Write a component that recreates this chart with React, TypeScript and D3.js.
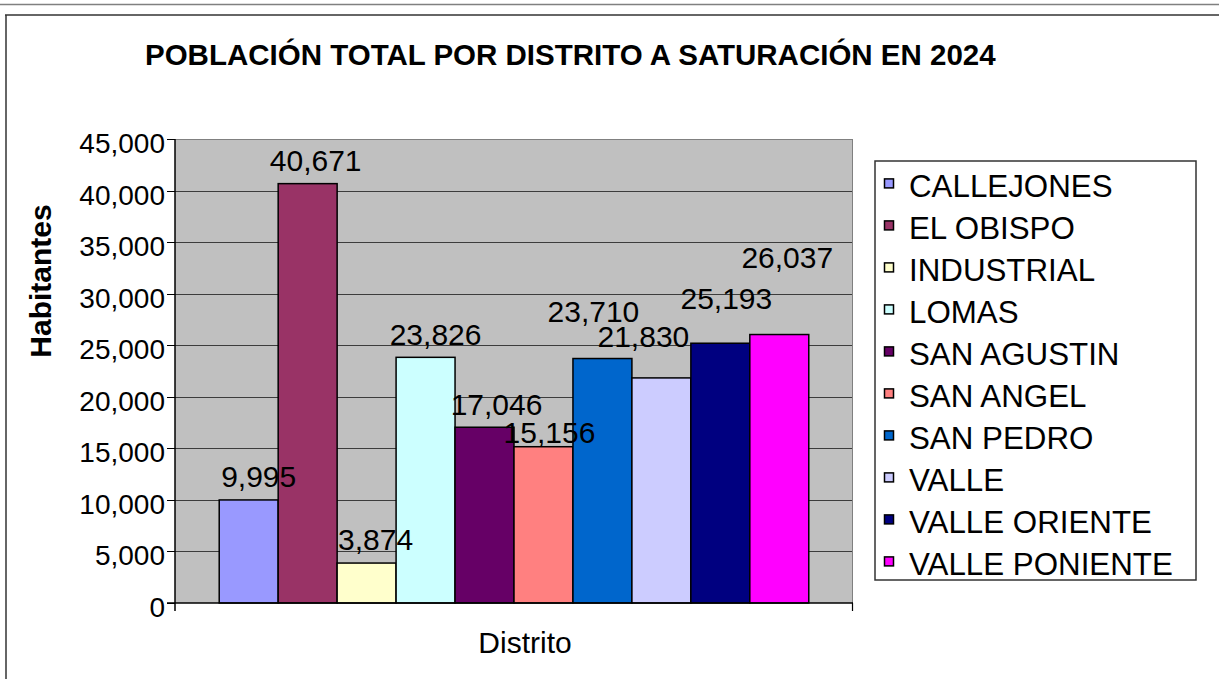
import React from "react";
import * as d3 from "d3";

const categories = ["Distrito"];
const districts = [
  "CALLEJONES",
  "EL OBISPO",
  "INDUSTRIAL",
  "LOMAS",
  "SAN AGUSTIN",
  "SAN ANGEL",
  "SAN PEDRO",
  "VALLE",
  "VALLE ORIENTE",
  "VALLE PONIENTE",
];
const population = [9995, 40671, 3874, 23826, 17046, 15156, 23710, 21830, 25193, 26037];
const colors = [
  "#9999FF",
  "#993366",
  "#FFFFCC",
  "#CCFFFF",
  "#660066",
  "#FF8080",
  "#0066CC",
  "#CCCCFF",
  "#000080",
  "#FF00FF",
];
const yTicks = [0, 5000, 10000, 15000, 20000, 25000, 30000, 35000, 40000, 45000];
const title = "POBLACIÓN TOTAL POR DISTRITO A SATURACIÓN EN 2024";
const yTitle = "Habitantes";

// label placement nudges (pixels) as laid out in the original chart
const labelDx = [10, 8, 9, 10, 12, 6, -9, -18, 6, 8];
const labelDy = [0, 0, 0, 0, 0, 9, -24, -18, -22, -54];

const FONT = "'Liberation Sans', Arial, Helvetica, sans-serif";

export default function App() {
  const W = 1219;
  const H = 679;
  const plot = { left: 175, top: 139, right: 853, bottom: 603 };
  const y = d3.scaleLinear().domain([0, 45000]).range([plot.bottom, plot.top]);
  const x0 = d3.scaleBand().domain(categories).range([plot.left, plot.right]).padding(0);
  const x1 = d3
    .scaleBand()
    .domain(districts)
    .range([0, x0.bandwidth()])
    .paddingInner(0)
    .paddingOuter(0.75);
  const fmt = d3.format(",");
  const catX = x0(categories[0]) as number;

  const legend = { x: 875, y: 161, w: 321, h: 419, first: 196.7, step: 42 };

  return (
    <svg
      width={W}
      height={H}
      style={{ position: "absolute", left: 0, top: 0, display: "block", background: "#fff" }}
      fontFamily={FONT}
    >
      {/* outer frame */}
      <line x1={0} x2={W} y1={4.5} y2={4.5} stroke="#808080" strokeWidth={1.5} />
      <line x1={5} x2={W} y1={15} y2={15} stroke="#333" strokeWidth={1.5} />
      <line x1={6} x2={6} y1={15} y2={H} stroke="#333" strokeWidth={1.5} />

      {/* title */}
      <text x={145} y={65} fontSize={29.5} fontWeight="bold" fill="#000">
        {title}
      </text>

      {/* plot background */}
      <rect
        x={plot.left}
        y={plot.top}
        width={plot.right - plot.left}
        height={plot.bottom - plot.top}
        fill="#C0C0C0"
      />
      {/* gridlines */}
      {yTicks
        .filter((t) => t > 0 && t < 45000)
        .map((t) => (
          <line
            key={"g" + t}
            x1={plot.left}
            x2={plot.right}
            y1={Math.round(y(t)) + 0.5}
            y2={Math.round(y(t)) + 0.5}
            stroke="#3c3c3c"
            strokeWidth={1}
          />
        ))}
      {/* plot top & right border */}
      <line x1={plot.left} x2={plot.right} y1={plot.top + 0.5} y2={plot.top + 0.5} stroke="#808080" />
      <line x1={plot.right - 0.5} x2={plot.right - 0.5} y1={plot.top} y2={plot.bottom} stroke="#808080" />

      {/* bars */}
      {districts.map((d, i) => {
        const bx = catX + (x1(d) as number);
        const by = y(population[i]);
        return (
          <rect
            key={d}
            x={bx}
            y={by}
            width={x1.bandwidth()}
            height={plot.bottom - by}
            fill={colors[i]}
            stroke="#000"
            strokeWidth={1.5}
          />
        );
      })}

      {/* axes */}
      <line x1={plot.left} x2={plot.left} y1={plot.top} y2={plot.bottom + 8} stroke="#000" strokeWidth={1.5} />
      <line x1={plot.left - 8} x2={plot.right} y1={plot.bottom} y2={plot.bottom} stroke="#000" strokeWidth={1.5} />
      <line x1={plot.right - 0.5} x2={plot.right - 0.5} y1={plot.bottom} y2={plot.bottom + 8} stroke="#000" strokeWidth={1.2} />
      {yTicks.map((t) => (
        <g key={"t" + t}>
          <line
            x1={plot.left - 8}
            x2={plot.left}
            y1={Math.round(y(t)) + 0.5}
            y2={Math.round(y(t)) + 0.5}
            stroke="#000"
            strokeWidth={1}
          />
          <text x={165} y={y(t) + 14} fontSize={28} textAnchor="end" fill="#000">
            {fmt(t)}
          </text>
        </g>
      ))}

      {/* data labels */}
      {districts.map((d, i) => {
        const bx = catX + (x1(d) as number) + x1.bandwidth() / 2;
        return (
          <text
            key={"l" + d}
            x={bx + labelDx[i]}
            y={y(population[i]) - 12.7 + labelDy[i]}
            fontSize={30}
            textAnchor="middle"
            fill="#000"
          >
            {fmt(population[i])}
          </text>
        );
      })}

      {/* axis titles */}
      <text x={525} y={653} fontSize={30} textAnchor="middle" fill="#000">
        {categories[0]}
      </text>
      <text
        transform="translate(51,281) rotate(-90)"
        fontSize={30}
        fontWeight="bold"
        textAnchor="middle"
        fill="#000"
      >
        {yTitle}
      </text>

      {/* legend */}
      <rect x={legend.x} y={legend.y} width={legend.w} height={legend.h} fill="#fff" stroke="#333" strokeWidth={1.5} />
      {districts.map((d, i) => {
        const base = legend.first + i * legend.step;
        return (
          <g key={"lg" + d}>
            <rect x={884.5} y={base - 17.8} width={9} height={9} fill={colors[i]} stroke="#000" strokeWidth={1.5} />
            <text x={909} y={base} fontSize={31.3} fill="#000">
              {d}
            </text>
          </g>
        );
      })}
    </svg>
  );
}
